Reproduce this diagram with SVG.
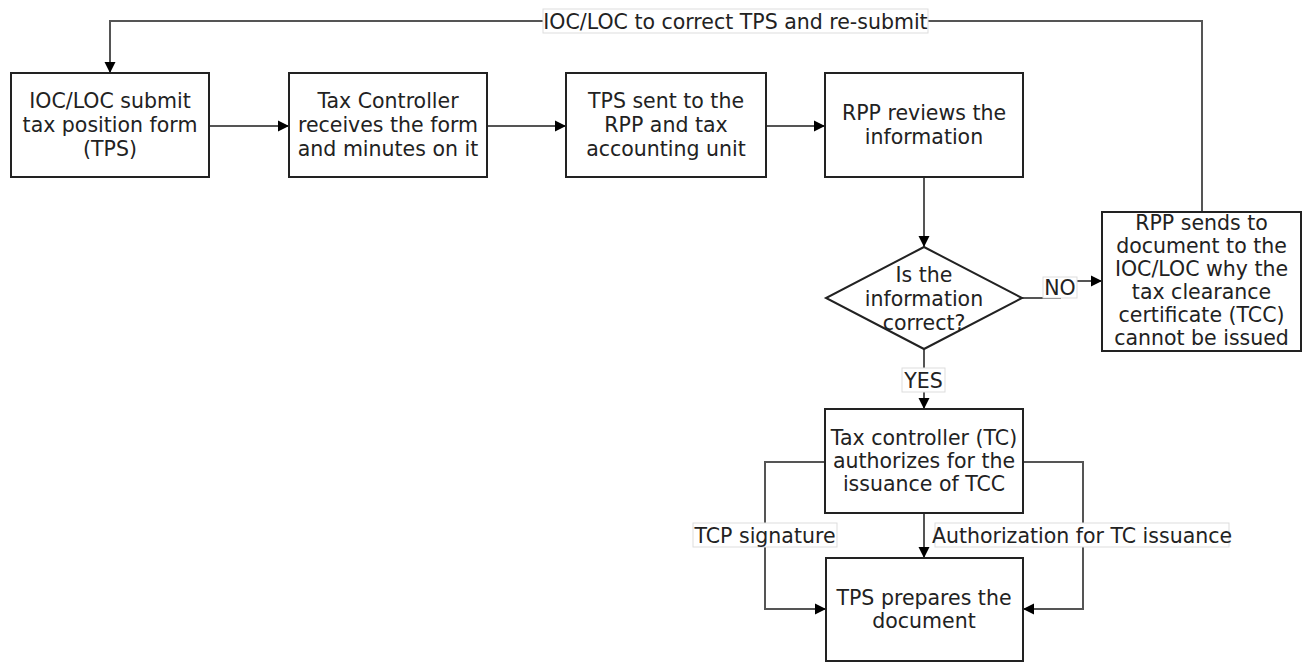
<svg xmlns="http://www.w3.org/2000/svg" width="1302" height="663" viewBox="0 0 1302 663">
<defs>
<marker id="arr" markerUnits="userSpaceOnUse" markerWidth="12" markerHeight="12" refX="11" refY="6" orient="auto">
<path d="M0,0.5 L11,6 L0,11.5 z" fill="#000"/>
</marker>
<style>
.box{fill:#fff;stroke:#222;stroke-width:2}
.t{font-family:"DejaVu Sans",Verdana,sans-serif;font-size:20.5px;fill:#222;text-anchor:middle}
.c{fill:none;stroke:#555;stroke-width:2}
.ca{fill:none;stroke:#555;stroke-width:2;marker-end:url(#arr)}
.lb{fill:#fff;stroke:#ddd;stroke-width:1}
</style>
</defs>
<rect width="1302" height="663" fill="#fff"/>
<g id="connectors">
<path class="ca" d="M1202,212 V21 H110 V73"/>
<path class="ca" d="M209,126 H289"/>
<path class="ca" d="M487,126 H566"/>
<path class="ca" d="M766,126 H825"/>
<path class="ca" d="M924,177 V247"/>
<path class="ca" d="M1022,298 H1060 V281 H1102"/>
<path class="ca" d="M924,349 V409"/>
<path class="ca" d="M924,513 V558"/>
<path class="ca" d="M825,462 H765 V609 H826"/>
<path class="ca" d="M1023,462 H1083 V609 H1023"/>
<g id="labels">
<rect class="lb" x="543" y="9" width="385" height="24"/>
<text class="t" x="735.5" y="28.5">IOC/LOC to correct TPS and re-submit</text>
<rect class="lb" x="1043" y="277" width="34" height="21"/>
<text class="t" x="1060" y="295">NO</text>
<rect class="lb" x="902" y="368" width="43" height="24"/>
<text class="t" x="923.5" y="387.5">YES</text>
<rect class="lb" x="693" y="523" width="144" height="24"/>
<text class="t" x="765" y="542.5">TCP signature</text>
<rect class="lb" x="935" y="523" width="294" height="24"/>
<text class="t" x="1082" y="542.5">Authorization for TC issuance</text>
</g>
</g>
<g id="n1">
<rect class="box" x="11" y="73" width="198" height="104"/>
<text class="t" x="110" y="107.5">IOC/LOC submit</text>
<text class="t" x="110" y="131.5">tax position form</text>
<text class="t" x="110" y="155.5">(TPS)</text>
</g>
<g id="n2">
<rect class="box" x="289" y="73" width="198" height="104"/>
<text class="t" x="388" y="107.5">Tax Controller</text>
<text class="t" x="388" y="131.5">receives the form</text>
<text class="t" x="388" y="155.5">and minutes on it</text>
</g>
<g id="n3">
<rect class="box" x="566" y="73" width="200" height="104"/>
<text class="t" x="666" y="107.5">TPS sent to the</text>
<text class="t" x="666" y="131.5">RPP and tax</text>
<text class="t" x="666" y="155.5">accounting unit</text>
</g>
<g id="n4">
<rect class="box" x="825" y="73" width="198" height="104"/>
<text class="t" x="924" y="119.5">RPP reviews the</text>
<text class="t" x="924" y="143.5">information</text>
</g>
<g id="n5">
<polygon class="box" points="924,247 1022,298 924,349 826,298"/>
<text class="t" x="924" y="281.5">Is the</text>
<text class="t" x="924" y="305.5">information</text>
<text class="t" x="924" y="329.5">correct?</text>
</g>
<g id="n6">
<rect class="box" x="1102" y="212" width="199" height="139"/>
<text class="t" x="1201.5" y="229.5">RPP sends to</text>
<text class="t" x="1201.5" y="252.5">document to the</text>
<text class="t" x="1201.5" y="275.5">IOC/LOC why the</text>
<text class="t" x="1201.5" y="299">tax clearance</text>
<text class="t" x="1201.5" y="322">certificate (TCC)</text>
<text class="t" x="1201.5" y="345">cannot be issued</text>
</g>
<g id="n7">
<rect class="box" x="825" y="409" width="198" height="104"/>
<text class="t" x="924" y="444.5">Tax controller (TC)</text>
<text class="t" x="924" y="467.5">authorizes for the</text>
<text class="t" x="924" y="490.5">issuance of TCC</text>
</g>
<g id="n8">
<rect class="box" x="826" y="558" width="197" height="103"/>
<text class="t" x="924" y="604.5">TPS prepares the</text>
<text class="t" x="924" y="627.5">document</text>
</g>
</svg>
